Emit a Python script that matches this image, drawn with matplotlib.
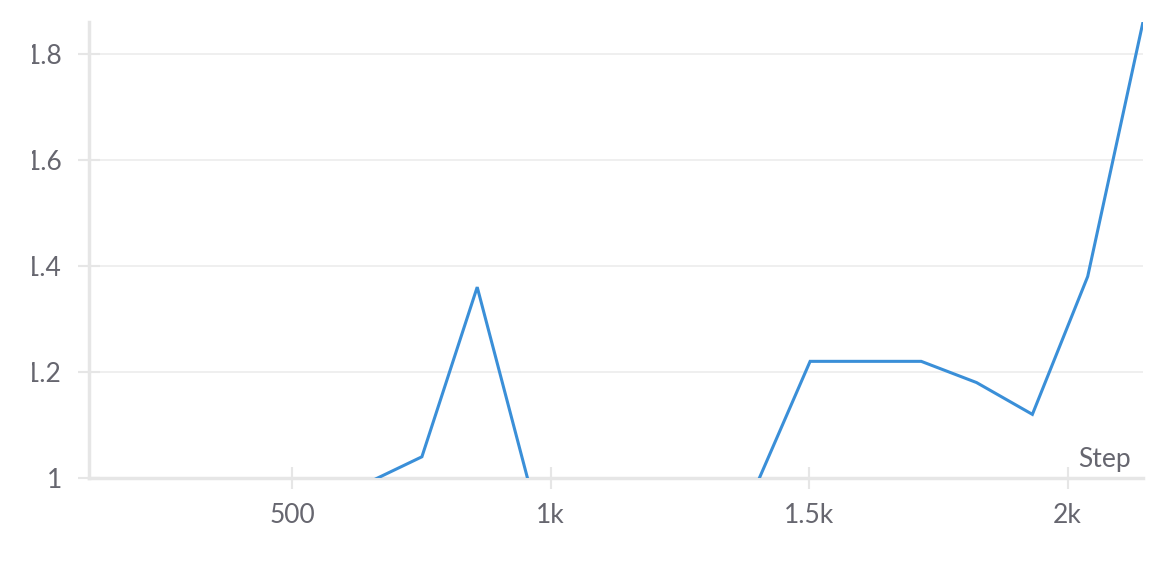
import matplotlib.pyplot as plt
from matplotlib.patches import Rectangle

plt.rcParams['font.family'] = ['Lato', 'DejaVu Sans']

# logged steps and values (values below 1 fall outside the visible range)
steps = [107, 215, 322, 429, 537, 644, 751, 858, 966, 1073,
         1180, 1288, 1395, 1502, 1610, 1717, 1824, 1932, 2039, 2146]
values = [0.9, 0.92, 0.93, 0.95, 0.97, 0.99, 1.04, 1.36, 0.96, 0.9,
          0.9, 0.92, 0.98, 1.22, 1.22, 1.22, 1.18, 1.12, 1.38, 1.86]

x_ticks = [500, 1000, 1500, 2000]
x_tick_labels = ['500', '1k', '1.5k', '2k']
y_ticks = [1, 1.2, 1.4, 1.6, 1.8]
y_tick_labels = ['1', '1.2', '1.4', '1.6', '1.8']

text_color = '#66666f'
axis_color = '#e6e6e6'
grid_color = '#ececec'

fig = plt.figure(figsize=(11.63, 5.61), dpi=100)
ax = fig.add_axes([89 / 1163, 83 / 561, (1143 - 89) / 1163, (478 - 22) / 561])

ax.plot(steps, values, color='#3a8fd8', linewidth=2.2, solid_joinstyle='miter', zorder=3)

ax.set_xlim(107, 2146)
ax.set_ylim(1, 1.86)
ax.set_xticks(x_ticks)
ax.set_xticklabels(x_tick_labels)
ax.set_yticks(y_ticks)
ax.set_yticklabels(y_tick_labels)

ax.grid(axis='y', color=grid_color, linewidth=1.2)
ax.set_axisbelow(True)

for side in ['top', 'right']:
    ax.spines[side].set_visible(False)
for side in ['left', 'bottom']:
    ax.spines[side].set_color(axis_color)
    ax.spines[side].set_linewidth(2.5)

ax.tick_params(axis='both', direction='inout', length=16.5, width=1.5,
               color=axis_color, labelcolor=text_color, labelsize=19)
ax.tick_params(axis='x', pad=9.5)
ax.tick_params(axis='y', pad=11)

ax.text(0.9886, 0.013, 'Step', transform=ax.transAxes, ha='right', va='bottom',
        fontsize=19, color=text_color)

# the source clips the left edge of the tick labels
fig.patches.append(Rectangle((0, 0.2), 32 / 1163, 0.8, transform=fig.transFigure,
                             facecolor='white', edgecolor='none', zorder=10))

fig.savefig('out.png', dpi=100)
